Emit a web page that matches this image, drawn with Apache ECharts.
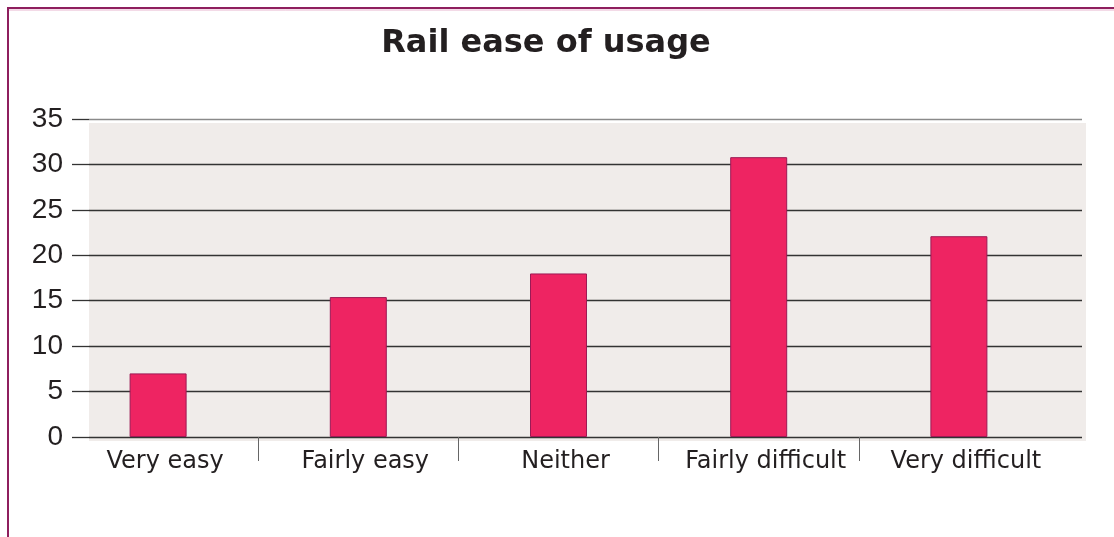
<!DOCTYPE html>
<html>
<head>
<meta charset="utf-8">
<title>Rail ease of usage</title>
<script src="https://cdn.jsdelivr.net/npm/echarts@6/dist/echarts.min.js"></script>
<style>
  html, body { margin: 0; padding: 0; background: #ffffff; }
  #chart { width: 1114px; height: 537px; }
</style>
</head>
<body>
<div id="chart"></div>
<script>
// Survey answers: how easy respondents find using rail
const categories = ['Very easy', 'Fairly easy', 'Neither', 'Fairly difficult', 'Very difficult'];
const percentages = [7, 15.4, 18, 30.8, 22.1];
const yTicks = { min: 0, max: 35, interval: 5 };
// separators sit between neighbouring answer groups
const dividerPositions = [1, 2, 3, 4];

const chart = echarts.init(document.getElementById('chart'), null, { renderer: 'canvas' });

const FONT = '"DejaVu Sans", "Noto Sans", sans-serif';
const TEXT = '#231f20';
const barGrid = { left: 58, right: 55, top: 119, bottom: 100 };

chart.setOption({
  animation: false,
  backgroundColor: '#ffffff',
  title: {
    text: 'Rail ease of usage',
    left: 541,
    textAlign: 'center',
    top: 23,
    textStyle: { fontFamily: FONT, fontWeight: 'bold', fontSize: 32, color: TEXT }
  },
  graphic: [
    // frame around the panel
    { type: 'rect', z: -10, shape: { x: 8, y: 8, width: 1130, height: 560 },
      style: { fill: 'transparent', stroke: '#8e1f5e', lineWidth: 2 } },
    { type: 'line', z: -10, shape: { x1: 9, y1: 10, x2: 1114, y2: 10 },
      style: { stroke: '#e8b6cf', lineWidth: 1 } },
    // shaded plot panel
    { type: 'rect', z: -5, shape: { x: 89, y: 123, width: 997, height: 318 },
      style: { fill: '#f0ecea' } }
  ],
  grid: [
    { left: 89, right: 32, top: 119, bottom: 100, show: false },
    Object.assign({ show: false }, barGrid),
    Object.assign({ show: false }, barGrid)
  ],
  xAxis: [
    { type: 'category', gridIndex: 0, data: categories, show: false },
    {
      type: 'category', gridIndex: 1, data: categories,
      axisLine: { show: false },
      axisTick: { show: false },
      axisLabel: { interval: 0, hideOverlap: false, fontFamily: FONT, fontSize: 24, color: TEXT, margin: 13, padding: [0, 0, 0, 14] }
    },
    {
      type: 'value', gridIndex: 2, min: 0, max: categories.length,
      axisLine: { show: false },
      axisLabel: { show: false },
      splitLine: { show: false },
      axisTick: { show: true, length: 24, customValues: dividerPositions, lineStyle: { color: '#666666', width: 1 } }
    }
  ],
  yAxis: [
    {
      type: 'value', gridIndex: 0, min: yTicks.min, max: yTicks.max, interval: yTicks.interval,
      axisLine: { show: false },
      axisTick: { show: true, length: 17, lineStyle: { color: '#333333', width: 1.3 } },
      splitLine: { show: true, lineStyle: { color: ['#333333', '#333333', '#333333', '#333333', '#333333', '#333333', '#333333', '#8a8a8a'], width: 1.3 } },
      axisLabel: { fontFamily: '"Liberation Sans", Arial, sans-serif', fontSize: 28, color: TEXT, margin: 26 }
    },
    {
      type: 'value', gridIndex: 1, min: yTicks.min, max: yTicks.max, interval: yTicks.interval,
      show: false, splitLine: { show: false }
    },
    {
      type: 'value', gridIndex: 2, min: yTicks.min, max: yTicks.max,
      show: false, splitLine: { show: false }
    }
  ],
  series: [
    {
      type: 'bar',
      xAxisIndex: 1, yAxisIndex: 1,
      data: percentages,
      barWidth: 57,
      itemStyle: { color: '#ee2462', borderColor: '#9c1a55', borderWidth: 1 },
      z: 5
    }
  ]
});
</script>
</body>
</html>
